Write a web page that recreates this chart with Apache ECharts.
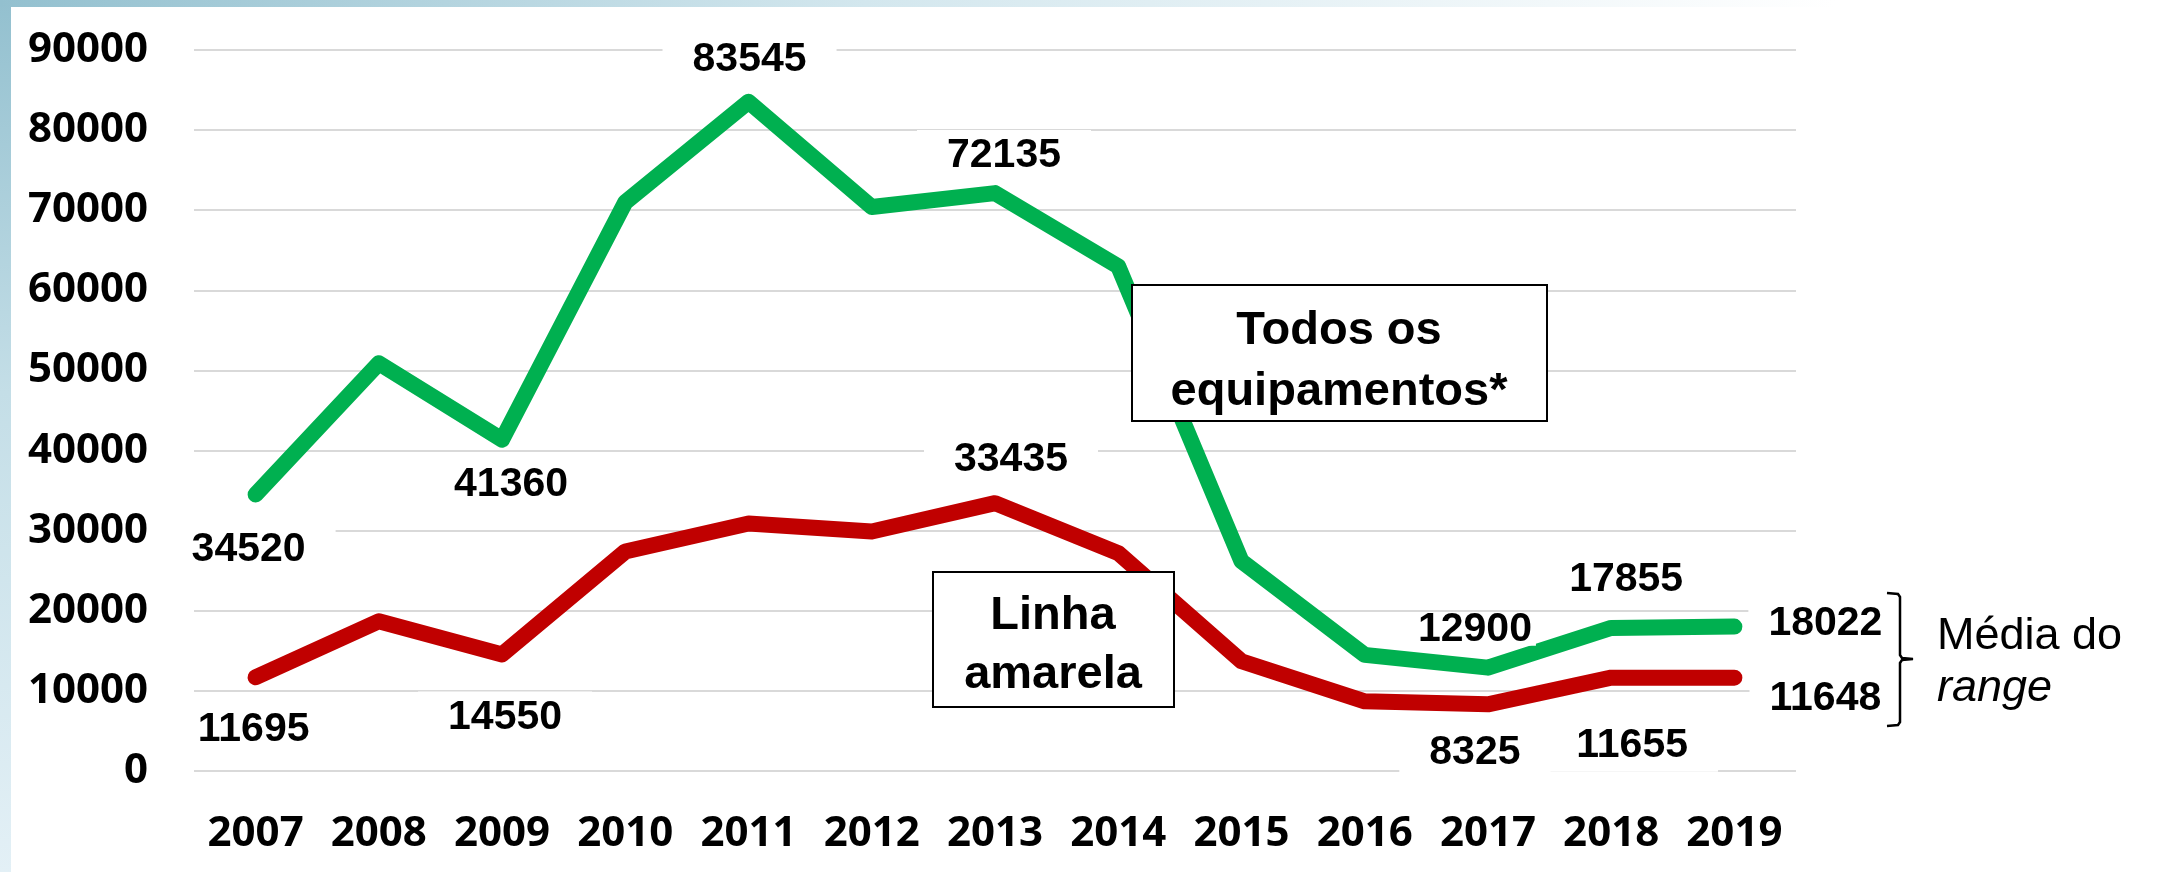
<!DOCTYPE html>
<html>
<head>
<meta charset="utf-8">
<title>Todos os equipamentos x Linha amarela</title>
<script src="https://cdn.jsdelivr.net/npm/echarts@6/dist/echarts.min.js"></script>
<style>
  html, body {
    margin: 0;
    padding: 0;
    width: 2160px;
    height: 872px;
    overflow: hidden;
    background: linear-gradient(to bottom, #93c0cf 0%, #c4dee7 45%, #e3f0f6 100%);
  }
  .top-strip {
    position: absolute;
    left: 0; top: 0;
    width: 2160px; height: 7px;
    background: linear-gradient(to right, #93c0cf 0%, #d3e7ee 40%, #ffffff 85%);
  }
  .sheet {
    position: absolute;
    left: 11px; top: 7px; right: 0; bottom: 0;
    background: #ffffff;
  }
  #chart {
    position: absolute;
    left: 0; top: 0;
    width: 2160px; height: 872px;
  }
</style>
</head>
<body>
<div class="top-strip"></div>
<div class="sheet"></div>
<div id="chart"></div>

<script>
  // dados
  var years = ['2007', '2008', '2009', '2010', '2011', '2012', '2013',
               '2014', '2015', '2016', '2017', '2018', '2019'];
  var todosEquip = [34520, 50900, 41360, 71000, 83545, 70400, 72135,
                    63000, 26200, 14500, 12900, 17855, 18022];
  var linhaAmarela = [11695, 18700, 14550, 27400, 30900, 29900, 33435,
                      27200, 13700, 8700, 8325, 11655, 11648];
  var yTicks = [0, 10000, 20000, 30000, 40000, 50000, 60000, 70000, 80000, 90000];

  // rotulos visiveis: [indice, dx, dy, padding vertical, padding horizontal]
  var greenLabelPos = [[0, -7, 55, 10, 30], [2, 9, 45, 10, 30], [4, 1, -42, 10, 30], [6, 9, -37, 10, 30],
                       [10, -13, -38, 0, 4], [11, 15, -48, 10, 30], [12, 91, -3, 6, 20]];
  var redLabelPos = [[0, -2, 52, 10, 30], [2, 3, 63, 10, 30], [6, 16, -43, 10, 30],
                     [10, -13, 48, 10, 30], [11, 21, 68, 10, 30], [12, 91, 21, 6, 20]];

  function buildData(values, labelPos) {
    var data = values.map(function (v) { return { value: v }; });
    labelPos.forEach(function (p) {
      data[p[0]].label = { show: true, offset: [p[1], p[2]], padding: [p[3], p[4]] };
    });
    return data;
  }

  var chart = echarts.init(document.getElementById('chart'), null, { renderer: 'canvas' });

  var labelStyle = {
    show: false,
    position: 'inside',
    color: '#000',
    fontFamily: 'Liberation Sans',
    fontWeight: 'bold',
    fontSize: 41,
    lineHeight: 32,
    backgroundColor: '#ffffff',
    formatter: function (p) { return p.value; }
  };

  var option = {
    backgroundColor: 'transparent',
    animation: false,
    grid: {
      left: 194,
      right: 364,
      top: 50,
      bottom: 101
    },
    xAxis: {
      type: 'category',
      data: years,
      boundaryGap: true,
      axisLine: { show: false },
      axisTick: { show: false },
      axisLabel: {
        interval: 0,
        margin: 42,
        color: '#000',
        fontFamily: 'Open Sans',
        fontWeight: 'bold',
        fontSize: 42
      }
    },
    yAxis: {
      type: 'value',
      min: yTicks[0],
      max: yTicks[yTicks.length - 1],
      interval: yTicks[1] - yTicks[0],
      axisLine: { show: false },
      axisTick: { show: false },
      splitLine: { lineStyle: { color: '#d9d9d9', width: 2 } },
      axisLabel: {
        margin: 46,
        color: '#000',
        fontFamily: 'Open Sans',
        fontWeight: 'bold',
        fontSize: 42,
        formatter: function (v) { return String(v); }
      }
    },
    series: [
      {
        name: 'Linha amarela',
        type: 'line',
        data: buildData(linhaAmarela, redLabelPos),
        symbol: 'circle',
        symbolSize: 1,
        itemStyle: { color: '#c00000' },
        lineStyle: { color: '#c00000', width: 16, cap: 'round', join: 'round' },
        label: labelStyle,
        z: 3
      },
      {
        name: 'Todos os equipamentos',
        type: 'line',
        data: buildData(todosEquip, greenLabelPos),
        symbol: 'circle',
        symbolSize: 1,
        itemStyle: { color: '#00b050' },
        lineStyle: { color: '#00b050', width: 16, cap: 'round', join: 'round' },
        label: labelStyle,
        z: 3
      }
    ],
    graphic: [
      // caixa "Todos os equipamentos*"
      {
        type: 'rect',
        z: 100,
        shape: { x: 1132, y: 285, width: 415, height: 136 },
        style: { fill: '#ffffff', stroke: '#000', lineWidth: 2 }
      },
      {
        type: 'text',
        z: 101,
        style: {
          x: 1339, y: 362,
          text: 'Todos os\nequipamentos*',
          font: 'bold 47px "Liberation Sans"',
          lineHeight: 61,
          fill: '#000',
          align: 'center', verticalAlign: 'middle',
          textAlign: 'center', textVerticalAlign: 'middle'
        }
      },
      // caixa "Linha amarela"
      {
        type: 'rect',
        z: 100,
        shape: { x: 933, y: 572, width: 241, height: 135 },
        style: { fill: '#ffffff', stroke: '#000', lineWidth: 2 }
      },
      {
        type: 'text',
        z: 101,
        style: {
          x: 1053, y: 646,
          text: 'Linha\namarela',
          font: 'bold 47px "Liberation Sans"',
          lineHeight: 59,
          fill: '#000',
          align: 'center', verticalAlign: 'middle',
          textAlign: 'center', textVerticalAlign: 'middle'
        }
      },
      // chave "}" e texto Média do range
      {
        type: 'polyline',
        z: 100,
        shape: {
          points: [[1887, 593], [1898, 594], [1900, 597], [1900, 655], [1902, 658], [1913, 659],
                   [1902, 660], [1900, 663], [1900, 722], [1898, 725], [1887, 726]]
        },
        style: { stroke: '#000', lineWidth: 2.5, fill: null }
      },
      {
        type: 'text',
        z: 100,
        style: {
          x: 1937, y: 637,
          text: 'Média do',
          font: '45px "Liberation Sans"',
          fill: '#000',
          align: 'left', verticalAlign: 'middle',
          textAlign: 'left', textVerticalAlign: 'middle'
        }
      },
      {
        type: 'text',
        z: 100,
        style: {
          x: 1937, y: 688,
          text: 'range',
          font: 'italic 45px "Liberation Sans"',
          fill: '#000',
          align: 'left', verticalAlign: 'middle',
          textAlign: 'left', textVerticalAlign: 'middle'
        }
      }
    ]
  };

  chart.setOption(option);
</script>
</body>
</html>
